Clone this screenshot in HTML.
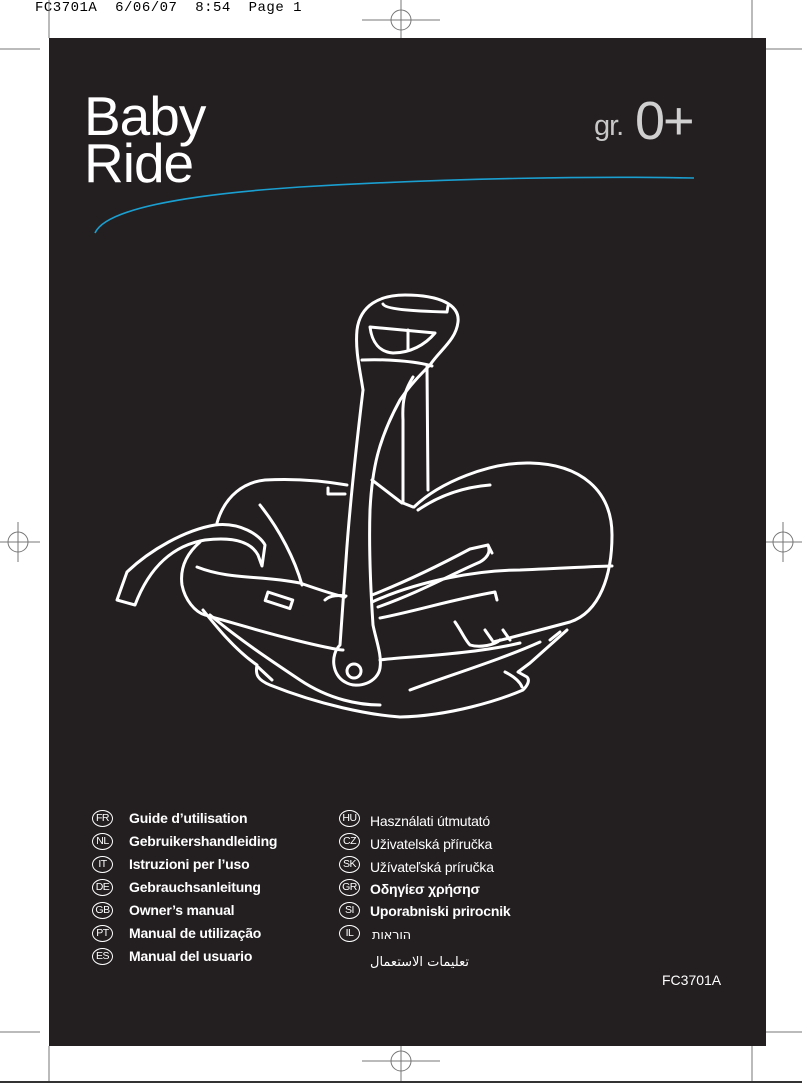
<!DOCTYPE html>
<html><head><meta charset="utf-8"><style>
html,body{margin:0;padding:0;background:#fff;}
body{width:802px;height:1083px;position:relative;overflow:hidden;font-family:"Liberation Sans",sans-serif;}
.panel{position:absolute;left:49px;top:38px;width:717px;height:1008px;background:#231f20;}
.t{position:absolute;color:#fff;white-space:nowrap;}
.hdr{position:absolute;left:35px;top:0px;font-family:"Liberation Mono",monospace;font-size:14px;color:#000;letter-spacing:0.5px;}
.lang{position:absolute;color:#fff;font-size:14px;font-weight:bold;white-space:nowrap;letter-spacing:-0.2px;}
.c{position:absolute;width:19px;height:15px;border:1.3px solid #fff;border-radius:50%;color:#fff;font-size:10.5px;line-height:15px;text-align:center;letter-spacing:-0.5px;}
</style></head><body>
<div class="hdr">FC3701A&nbsp; 6/06/07&nbsp; 8:54&nbsp; Page 1</div>
<svg style="position:absolute;left:0;top:0" width="802" height="1083">
<g stroke="#777" stroke-width="1" fill="none">
<line x1="49" y1="0" x2="49" y2="38"/><line x1="752" y1="0" x2="752" y2="38"/>
<line x1="0" y1="49" x2="40" y2="49"/><line x1="762" y1="49" x2="802" y2="49"/>
<line x1="49" y1="1046" x2="49" y2="1083"/><line x1="752" y1="1046" x2="752" y2="1083"/>
<line x1="0" y1="1032" x2="40" y2="1032"/><line x1="762" y1="1032" x2="802" y2="1032"/>
<line x1="362" y1="20" x2="440" y2="20"/><line x1="401" y1="0" x2="401" y2="38"/><ellipse cx="401" cy="20" rx="10" ry="10"/>
<line x1="362" y1="1061" x2="440" y2="1061"/><line x1="401" y1="1043" x2="401" y2="1083"/><ellipse cx="401" cy="1061" rx="10" ry="10"/>
<line x1="0" y1="542" x2="40" y2="542"/><line x1="18" y1="522" x2="18" y2="562"/><ellipse cx="18" cy="542" rx="10" ry="10"/>
<line x1="762" y1="542" x2="802" y2="542"/><line x1="783" y1="522" x2="783" y2="562"/><ellipse cx="783" cy="542" rx="10" ry="10"/>
</g>
<line x1="0" y1="1082" x2="802" y2="1082" stroke="#333" stroke-width="2"/>
</svg>
<div class="panel"></div>
<div class="t" style="left:84px;top:93px;font-size:55px;line-height:47px;letter-spacing:-1px;">Baby<br>Ride</div>
<div class="t" style="left:594px;top:110px;font-size:29px;color:#c8c8c8;letter-spacing:-1px;">gr.</div>
<div class="t" style="left:635px;top:90px;font-size:54px;color:#d0d0d0;font-weight:normal;letter-spacing:-2px;">0+</div>
<svg style="position:absolute;left:0;top:0" width="802" height="1083">
<path d="M95,233 C105,210 180,195 300,187 C450,178 600,176 694,178" stroke="#1a9fd0" stroke-width="1.6" fill="none"/>
<g stroke="#fff" stroke-width="3" fill="none" stroke-linecap="round" stroke-linejoin="round">
<path d="M363,390 C360,370 355,350 357,330 C360,305 380,295 405,295 C440,295 460,305 458,322 C456,340 440,350 430,365"/>
<path d="M383,304 C385,309 410,311 447,312 L448,306"/>
<path d="M370,327 L435,333 C425,345 410,353 393,353 C380,352 372,343 370,327 Z"/>
<line x1="408" y1="330" x2="408" y2="350"/>
<path d="M362,360 C385,359 415,361 432,366"/>
<path d="M363,390 C357,440 350,500 346,560 C343,600 341,630 340,645 C330,655 332,675 345,682 C358,690 378,682 380,668 C382,655 376,640 373,625 C370,580 369,540 370,510 C372,470 378,440 400,400 C410,385 420,375 430,365"/>
<circle cx="354" cy="671" r="7"/>
<path d="M427,367 L428,490"/>
<path d="M413,377 C405,390 402,400 403,420 L403,503 L413,507"/>
<path d="M372,480 L402,503"/>
<path d="M217,523 C225,495 245,482 265,480 C300,478 330,482 347,485"/>
<path d="M328,488 L328,494 L345,494"/>
<path d="M260,505 C280,530 295,560 302,585"/>
<path d="M117,600 L127,572 C150,550 185,530 215,525 C240,522 260,535 265,545 L262,566 L258,555 C250,540 230,537 205,540 C175,545 150,565 135,605 Z"/>
<path d="M200,542 C185,555 180,570 182,585 C185,600 195,612 205,615 C240,625 290,640 330,648 C340,650 342,650 343,650"/>
<path d="M197,567 C230,580 260,575 300,583 C320,590 335,595 345,597"/>
<rect x="0" y="0" width="26" height="9" transform="translate(268,592) rotate(18)"/>
<path d="M325,600 C330,595 340,595 346,596"/>
<path d="M203,610 C215,625 235,650 257,665 C255,675 258,680 270,685 C320,705 370,715 400,717 C450,716 500,700 523,690 C528,685 530,680 527,677 L518,672 L530,663 L567,630"/>
<path d="M210,615 C240,640 270,660 300,680 C330,700 360,705 380,705"/>
<path d="M258,667 L272,680"/>
<path d="M505,672 C515,677 520,682 522,687"/>
<path d="M410,690 C450,675 500,660 540,642"/>
<path d="M550,640 L560,632"/>
<path d="M414,507 C440,482 490,462 530,463 C580,464 612,490 612,535 C612,575 600,612 570,622 C540,630 510,638 493,642"/>
<path d="M418,510 C440,495 465,487 490,485"/>
<path d="M372,602 C420,580 480,570 520,570 C570,568 600,566 612,566"/>
<path d="M378,607 C420,592 450,575 480,562 C490,556 490,550 488,545"/>
<path d="M372,595 C410,580 440,565 470,549 L488,545 L492,553"/>
<path d="M380,618 C420,610 450,600 495,592 L497,600"/>
<path d="M380,660 C400,657 470,655 520,643"/>
<path d="M455,622 C462,632 465,640 470,645 C480,648 495,645 500,640"/>
<path d="M485,630 L492,640"/>
<path d="M503,630 L510,640"/>
</g>
</svg>
<div class="c" style="left:92px;top:810px;">FR</div><div class="lang" style="left:129px;top:810px;">Guide d’utilisation</div>
<div class="c" style="left:92px;top:833px;">NL</div><div class="lang" style="left:129px;top:833px;">Gebruikershandleiding</div>
<div class="c" style="left:92px;top:856px;">IT</div><div class="lang" style="left:129px;top:856px;">Istruzioni per l’uso</div>
<div class="c" style="left:92px;top:879px;">DE</div><div class="lang" style="left:129px;top:879px;">Gebrauchsanleitung</div>
<div class="c" style="left:92px;top:902px;">GB</div><div class="lang" style="left:129px;top:902px;">Owner’s manual</div>
<div class="c" style="left:92px;top:925px;">PT</div><div class="lang" style="left:129px;top:925px;">Manual de utilização</div>
<div class="c" style="left:92px;top:948px;">ES</div><div class="lang" style="left:129px;top:948px;">Manual del usuario</div>
<div class="c" style="left:339px;top:810px;">HU</div><div class="lang" style="left:370px;top:813px;font-weight:normal;">Használati útmutató</div>
<div class="c" style="left:339px;top:833px;">CZ</div><div class="lang" style="left:370px;top:836px;font-weight:normal;">Uživatelská příručka</div>
<div class="c" style="left:339px;top:856px;">SK</div><div class="lang" style="left:370px;top:859px;font-weight:normal;">Užívateľská príručka</div>
<div class="c" style="left:339px;top:879px;">GR</div><div class="lang" style="left:370px;top:881px;">Οδηγίεσ χρήσησ</div>
<div class="c" style="left:339px;top:902px;">SI</div><div class="lang" style="left:370px;top:903px;">Uporabniski prirocnik</div>
<div class="c" style="left:339px;top:925px;">IL</div><div class="lang" style="left:372px;top:928px;font-weight:normal;font-family:'DejaVu Sans',sans-serif;font-size:13px;">הוראות</div>
<div class="lang" style="left:370px;top:955px;font-weight:normal;font-family:'DejaVu Sans',sans-serif;font-size:13px;">تعليمات الاستعمال</div>
<div class="t" style="left:662px;top:972px;font-size:14px;">FC3701A</div>
</body></html>
